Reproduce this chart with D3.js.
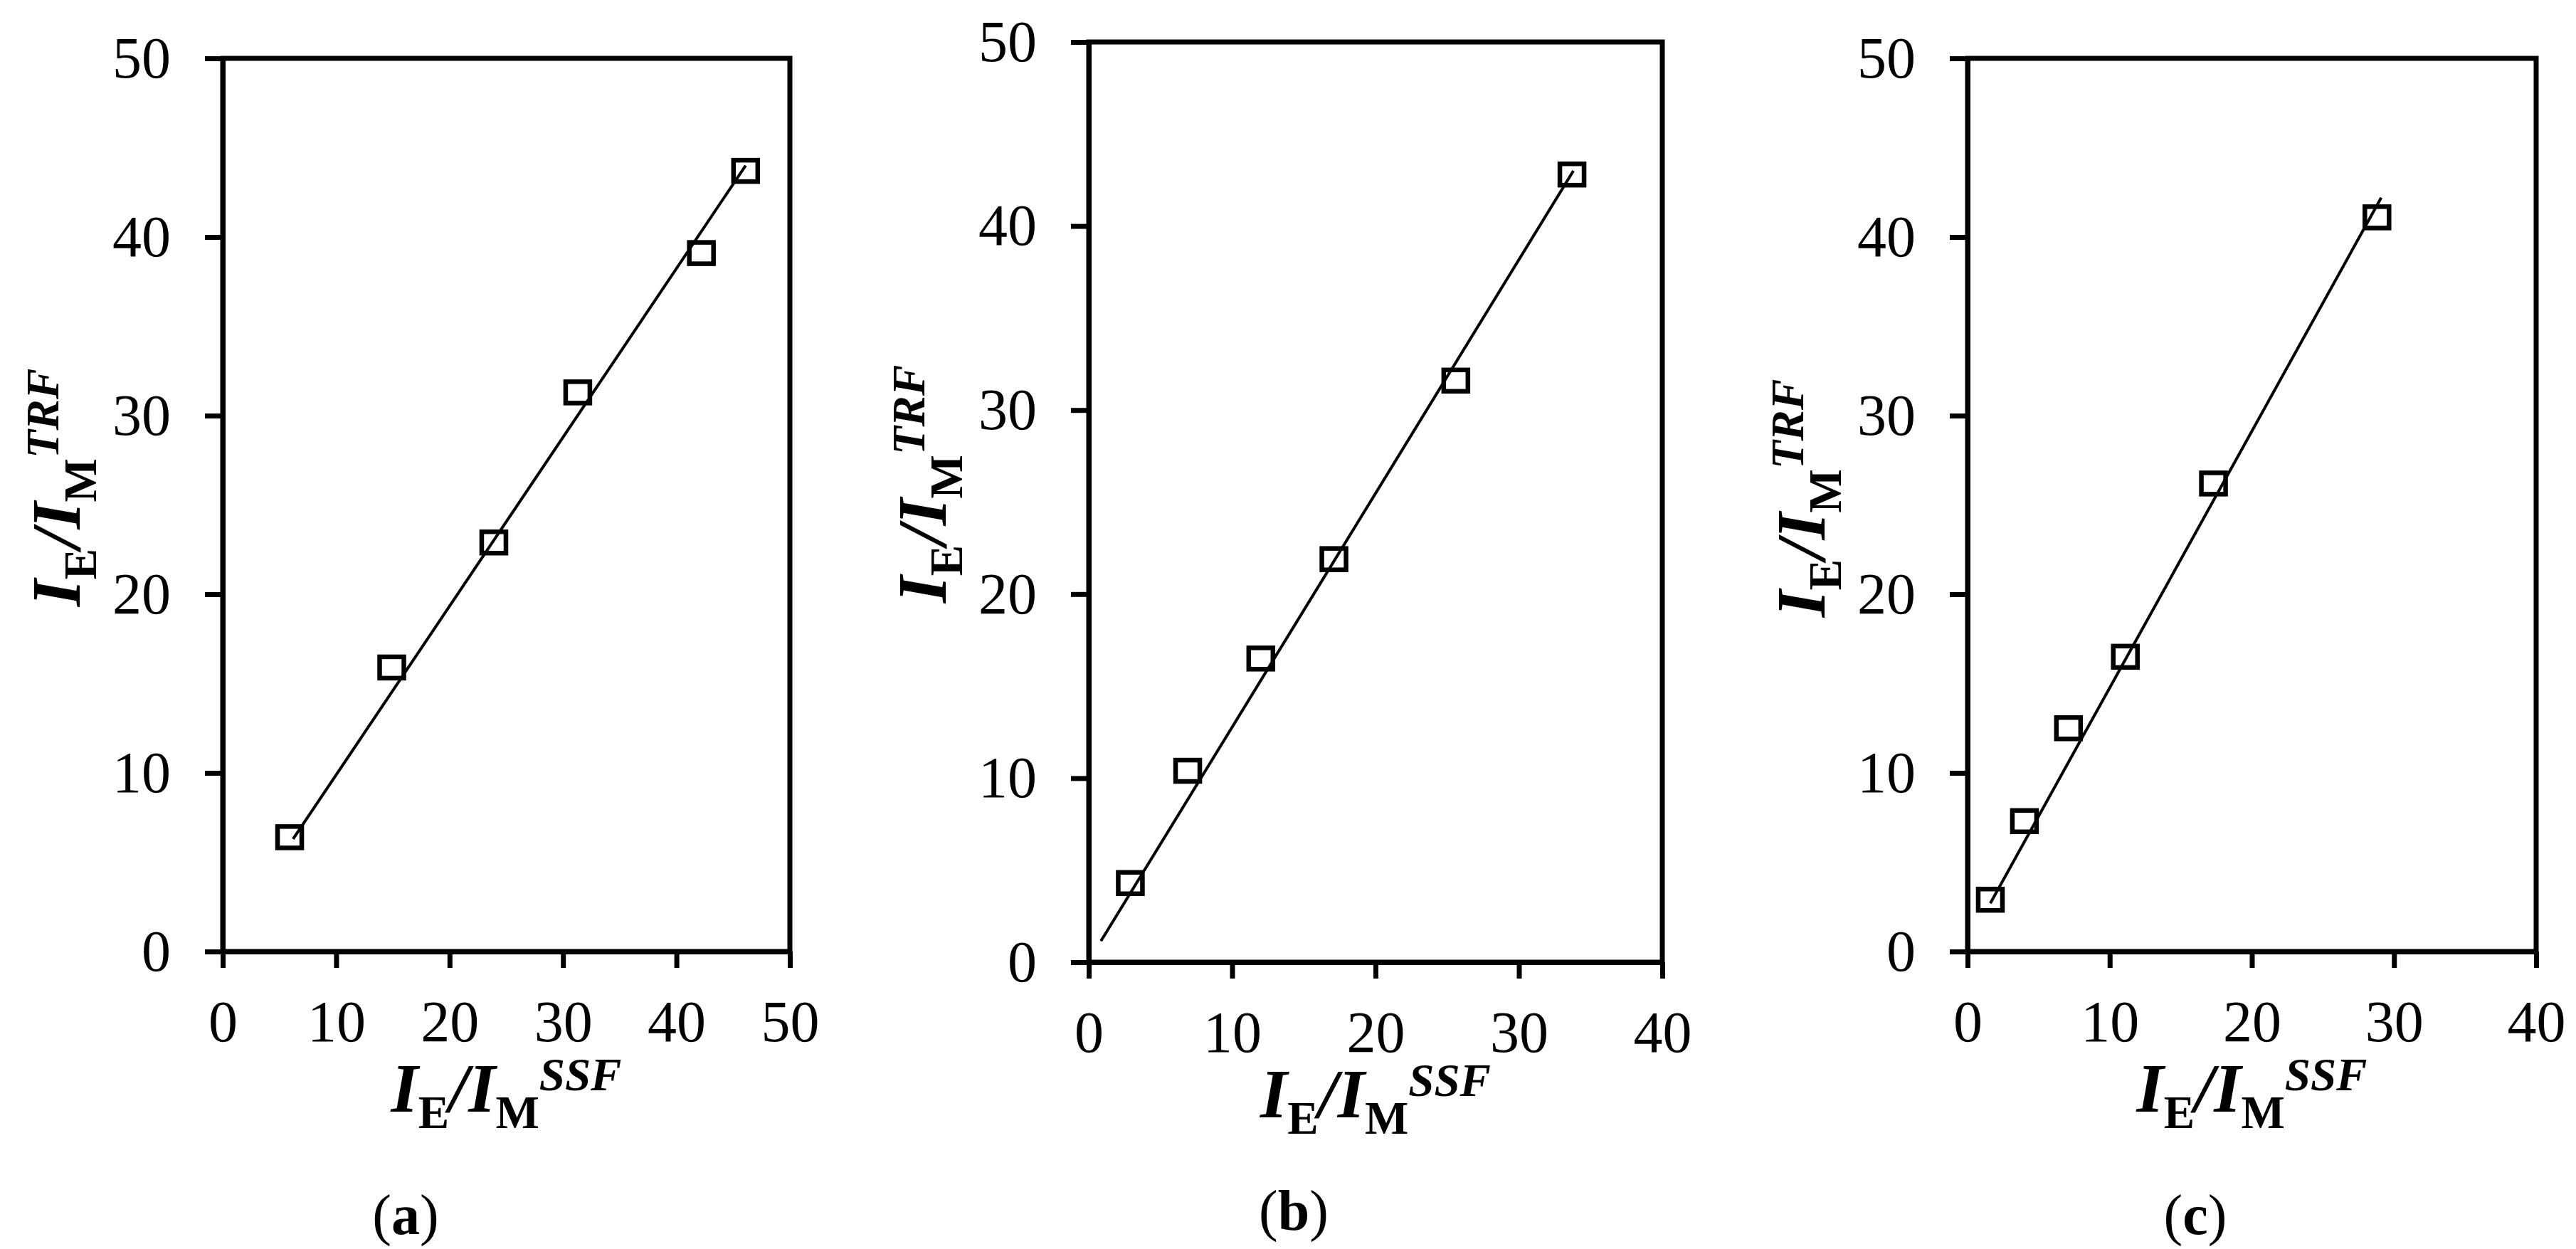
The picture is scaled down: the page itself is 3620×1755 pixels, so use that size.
<!DOCTYPE html>
<html>
<head>
<meta charset="utf-8">
<script src="https://cdn.jsdelivr.net/npm/d3@7"></script>
<style>
  body { margin: 0; background: #fff; }
  svg { display: block; }
  text { font-family: "Liberation Serif", "Times New Roman", serif; fill: #000; }
</style>
</head>
<body>
<svg id="chart" width="3620" height="1755"></svg>
<script>
// values
const panelNames = ["a", "b", "c"];
const xDomainMax = [50, 40, 40];
const yTickValues = [0, 10, 20, 30, 40, 50];
const xTickValuesA = [0, 10, 20, 30, 40, 50];
const xTickValuesBC = [0, 10, 20, 30, 40];

const ssfA = [5.9, 14.9, 23.9, 31.3, 42.2, 46.1];
const trfA = [6.4, 15.9, 22.9, 31.3, 39.1, 43.7];
const ssfB = [2.9, 6.9, 12.0, 17.1, 25.6, 33.7];
const trfB = [4.3, 10.4, 16.5, 21.9, 31.6, 42.8];
const ssfC = [1.6, 4.0, 7.1, 11.1, 17.3, 28.8];
const trfC = [2.9, 7.3, 12.5, 16.5, 26.2, 41.1];

// trend line end points
const fitSsfA = [6.2, 46.1];
const fitTrfA = [6.3, 44.0];
const fitSsfB = [0.85, 33.8];
const fitTrfB = [1.15, 43.0];
const fitSsfC = [1.6, 29.1];
const fitTrfC = [2.7, 42.2];

// layout of each plot box
const BOXES = [
  { left: 313, right: 1110, top: 82, bottom: 1337, label: [570, 1734], ytitle: 685, xtitle: 1562 },
  { left: 1530, right: 2336, top: 59, bottom: 1352, label: [1818, 1728], ytitle: 680, xtitle: 1570 },
  { left: 2765, right: 3564, top: 82, bottom: 1337, label: [3085, 1734], ytitle: 700, xtitle: 1562 }
];
const AXIS_W = 7;
const TICK_FONT = 82;

const svg = d3.select("#chart");

const panels = [
  { xs: ssfA, ys: trfA, fx: fitSsfA, fy: fitTrfA, xticks: xTickValuesA },
  { xs: ssfB, ys: trfB, fx: fitSsfB, fy: fitTrfB, xticks: xTickValuesBC },
  { xs: ssfC, ys: trfC, fx: fitSsfC, fy: fitTrfC, xticks: xTickValuesBC }
];

panels.forEach((p, i) => drawPanel(p, i));

function drawPanel (p, i) {
  const box = BOXES[i];
  const g = svg.append("g").attr("id", "panel-" + panelNames[i]);

  const xScale = d3.scaleLinear().domain([0, xDomainMax[i]]).range([box.left, box.right]);
  const yScale = d3.scaleLinear().domain([0, 50]).range([box.bottom, box.top]);

  // frame (top + right)
  g.append("rect")
    .attr("x", box.left).attr("y", box.top)
    .attr("width", box.right - box.left).attr("height", box.bottom - box.top)
    .attr("fill", "none").attr("stroke", "#000").attr("stroke-width", AXIS_W);

  const xAxis = g.append("g")
    .attr("transform", `translate(0,${box.bottom})`)
    .call(d3.axisBottom(xScale).tickValues(p.xticks).tickSize(23).tickSizeOuter(0).tickPadding(45));

  const yAxis = g.append("g")
    .attr("transform", `translate(${box.left},0)`)
    .call(d3.axisLeft(yScale).tickValues(yTickValues).tickSize(25).tickSizeOuter(0).tickPadding(48));

  [xAxis, yAxis].forEach(ax => {
    ax.select(".domain").attr("stroke", "#000").attr("stroke-width", AXIS_W);
    ax.selectAll(".tick line").attr("stroke", "#000").attr("stroke-width", AXIS_W);
    ax.selectAll(".tick text")
      .style("font-family", "'Liberation Serif', serif")
      .style("font-size", TICK_FONT + "px")
      .attr("fill", "#000");
  });

  // trend line
  const fit = p.fx.map((x, k) => [x, p.fy[k]]);
  g.append("path")
    .datum(fit)
    .attr("d", d3.line().x(d => xScale(d[0])).y(d => yScale(d[1])))
    .attr("fill", "none").attr("stroke", "#000").attr("stroke-width", 4);

  // markers
  const pts = p.xs.map((x, k) => ({ x: x, y: p.ys[k] }));
  g.selectAll("rect.pt")
    .data(pts)
    .join("rect")
    .attr("class", "pt")
    .attr("x", d => xScale(d.x) - 17)
    .attr("y", d => yScale(d.y) - 15)
    .attr("width", 34)
    .attr("height", 30)
    .attr("fill", "none")
    .attr("stroke", "#000")
    .attr("stroke-width", 6.5);

  // x title
  const cx = (box.left + box.right) / 2;
  axisTitle(g.append("text")
    .attr("x", cx).attr("y", box.xtitle)
    .attr("text-anchor", "middle"), "SSF");

  // y title
  const yx = box.left - 201;
  axisTitle(g.append("text")
    .attr("transform", `translate(${yx},${box.ytitle}) rotate(-90)`)
    .attr("text-anchor", "middle"), "TRF");

  // panel label
  const lab = g.append("text")
    .attr("x", box.label[0]).attr("y", box.label[1])
    .attr("text-anchor", "middle")
    .style("font-size", "80px");
  lab.append("tspan").text("(");
  lab.append("tspan").style("font-weight", "bold").text(panelNames[i]);
  lab.append("tspan").text(")");
}

function axisTitle (t, sup) {
  const big = "98px", small = "65px";
  t.append("tspan").style("font-size", big).style("font-weight", "bold").style("font-style", "italic").text("I");
  t.append("tspan").style("font-size", small).style("font-weight", "bold").attr("dy", 23).text("E");
  t.append("tspan").style("font-size", big).style("font-weight", "bold").style("font-style", "italic").attr("dy", -23).text("/");
  t.append("tspan").style("font-size", big).style("font-weight", "bold").style("font-style", "italic").text("I");
  t.append("tspan").style("font-size", small).style("font-weight", "bold").attr("dy", 23).text("M");
  t.append("tspan").style("font-size", small).style("font-weight", "bold").style("font-style", "italic").attr("dy", -53).text(sup);
}
</script>
</body>
</html>
